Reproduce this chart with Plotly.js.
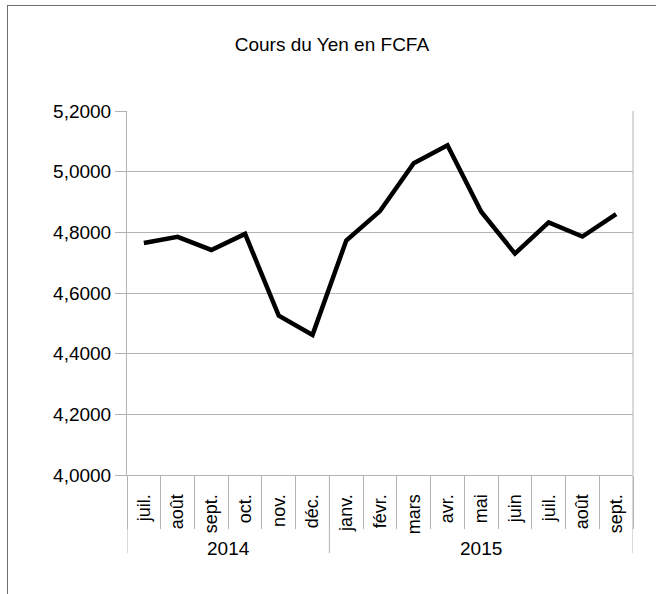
<!DOCTYPE html>
<html>
<head>
<meta charset="utf-8">
<script src="https://cdn.plot.ly/plotly-3.0.1.min.js"></script>
<style>
  html, body { margin: 0; padding: 0; background: #ffffff; }
  #wrap { position: relative; width: 656px; height: 594px; overflow: hidden; }
  #frame { position: absolute; left: 7px; top: 5px; width: 700px; height: 700px;
           border: 1px solid #6e6e6e; box-sizing: border-box; pointer-events: none; }
  #chart { position: absolute; left: 0; top: 0; width: 656px; height: 594px; }
</style>
</head>
<body>
<div id="wrap">
  <div id="chart"></div>
  <div id="frame"></div>
</div>
<script>
const years = ["2014","2014","2014","2014","2014","2014","2015","2015","2015","2015","2015","2015","2015","2015","2015"];
const months = ["juil.","août","sept.","oct.","nov.","déc.","janv.","févr.","mars","avr.","mai","juin","juil.","août","sept."];
const yenFcfa = [4.765, 4.785, 4.742, 4.795, 4.525, 4.462, 4.773, 4.870, 5.028, 5.087, 4.868, 4.730, 4.833, 4.786, 4.860];
const yTicks = [4.0, 4.2, 4.4, 4.6, 4.8, 5.0, 5.2];

const font = "Liberation Sans, Arial, sans-serif";
const idx = months.map((m, i) => i);
const boundaries = idx.concat([months.length]).map(i => i - 0.5);

// year groups: centre and edges, from the years array
const groups = [];
years.forEach((y, i) => {
  const g = groups[groups.length - 1];
  if (g && g.year === y) g.end = i; else groups.push({ year: y, start: i, end: i });
});

const plotH = 594 - 111 - 119;
const dividerBottom = -(553 - 475) / plotH;
const yearY = -(548 - 475) / plotH;

const shapes = [{
  type: "line", xref: "paper", yref: "paper", x0: 1, x1: 1, y0: 0, y1: 1,
  line: { color: "#b3b3b3", width: 1 }
}];
const dividerX = [groups[0].start - 0.5].concat(groups.map(g => g.end + 0.5));
dividerX.forEach(x => shapes.push({
  type: "line", xref: "x", yref: "paper", x0: x, x1: x, y0: 0, y1: dividerBottom,
  line: { color: "#b3b3b3", width: 1 }
}));
const annotations = groups.map(g => ({
  xref: "x", yref: "paper", x: (g.start + g.end) / 2, y: yearY,
  text: g.year, showarrow: false, xanchor: "center", yanchor: "middle",
  font: { family: font, size: 19, color: "#000" }
}));

Plotly.newPlot("chart", [{
  type: "scatter",
  mode: "lines",
  x: idx,
  y: yenFcfa,
  line: { color: "#000000", width: 4.5 },
  hoverinfo: "none"
}], {
  width: 656,
  height: 594,
  margin: { l: 127, r: 23, t: 111, b: 119 },
  paper_bgcolor: "rgba(0,0,0,0)",
  plot_bgcolor: "#ffffff",
  separators: ", ",
  showlegend: false,
  title: { text: "Cours du Yen en FCFA", font: { family: font, size: 19, color: "#000" },
           x: 0.506, xanchor: "center", y: 0.925, yanchor: "middle" },
  xaxis: {
    range: [-0.5, months.length - 0.5],
    tickmode: "array", tickvals: idx, ticktext: months,
    showgrid: false, zeroline: false,
    showline: true, linecolor: "#b3b3b3", linewidth: 1,
    ticks: "outside", ticklen: 0, tickcolor: "rgba(0,0,0,0)",
    tickangle: -90,
    ticklabelstandoff: 11,
    tickfont: { family: font, size: 18, color: "#000" },
    minor: { tickmode: "array", tickvals: boundaries, ticks: "outside", ticklen: 53,
             tickcolor: "#b3b3b3", tickwidth: 1, showgrid: false }
  },
  yaxis: {
    range: [4.0, 5.2],
    tickvals: yTicks,
    tickformat: ".4f",
    showgrid: true, gridcolor: "#b3b3b3", gridwidth: 1,
    zeroline: false,
    showline: true, linecolor: "#b3b3b3", linewidth: 1,
    ticks: "outside", ticklen: 11, tickcolor: "#b3b3b3",
    tickfont: { family: font, size: 19, color: "#000" }
  },
  shapes: shapes,
  annotations: annotations
}, { displayModeBar: false, staticPlot: true });
</script>
</body>
</html>
